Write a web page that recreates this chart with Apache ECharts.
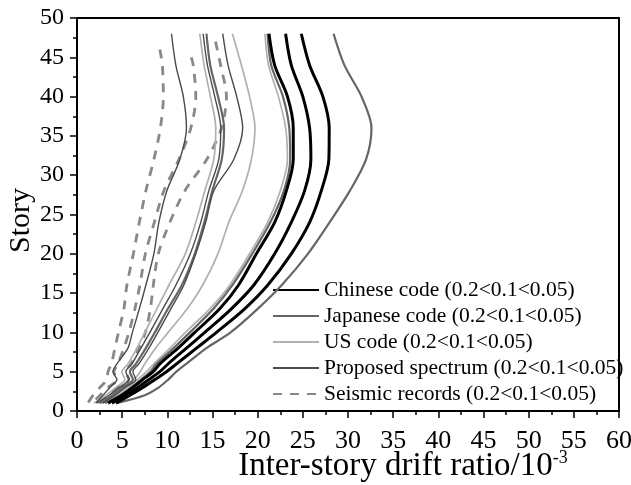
<!DOCTYPE html>
<html>
<head>
<meta charset="utf-8">
<script src="https://cdn.jsdelivr.net/npm/echarts@6/dist/echarts.min.js"></script>
<style>
  html, body { margin: 0; padding: 0; background: #fff; }
  #chart { width: 631px; height: 485px; }
</style>
</head>
<body>
<div id="chart"></div>
<script>
// Story levels at which drift ratios are sampled (top to bottom)
const stories = [48, 44, 40, 36, 32, 28, 24, 20, 16, 13, 10, 8, 6, 5, 4, 3, 2, 1];
const storiesSeismic02 = [46, 44, 40, 36, 32, 28, 24, 20, 16, 13, 10, 8, 6, 5, 4, 3, 2, 1];
const storiesSeismic01 = [45, 44, 40, 36, 32, 28, 24, 20, 16, 13, 10, 8, 6, 5, 4, 3, 2, 1];
const storiesSeismic005 = [47, 44, 40, 36, 32, 28, 24, 20, 16, 13, 10, 8, 6, 5, 4, 3, 2, 1];

// Inter-story drift ratio (x 10^-3), damping ratios 0.2 / 0.1 / 0.05
const chinese02  = [21.25, 21.88, 23.3, 23.94, 23.94, 23.17, 21.88, 19.86, 17.87, 15.8, 13.04, 11.19, 9.17, 8.43, 7.29, 6.19, 4.97, 3.43];
const chinese01  = [23.09, 23.72, 25.0, 25.75, 25.89, 25.19, 23.72, 21.88, 19.56, 17.09, 14.14, 12.12, 10.09, 9.17, 7.96, 6.74, 5.41, 3.87];
const chinese005 = [24.83, 25.75, 27.22, 27.92, 27.88, 27.04, 25.75, 23.72, 21.1, 18.56, 15.44, 13.23, 11.02, 9.91, 8.62, 7.29, 5.86, 4.31];

const japanese02  = [14.33, 14.75, 15.61, 16.28, 16.02, 14.97, 14.09, 13.04, 11.6, 10.06, 8.62, 7.62, 6.52, 5.86, 6.19, 4.97, 3.87, 2.54];
const japanese01  = [21.1, 21.5, 22.8, 23.5, 23.6, 22.9, 21.4, 19.4, 17.2, 15.1, 12.5, 10.7, 8.8, 8.1, 7.1, 6.0, 4.75, 3.1];
const japanese005 = [28.4, 29.6, 31.5, 32.6, 32.0, 30.2, 27.96, 25.56, 22.65, 20.0, 17.0, 14.33, 12.1, 11.0, 10.1, 9.06, 7.5, 4.4];

const us02  = [13.59, 14.07, 14.77, 15.36, 15.14, 14.14, 13.15, 11.99, 10.17, 8.84, 7.51, 6.63, 5.64, 4.97, 5.3, 4.31, 3.2, 1.88];
const us01  = [17.2, 18.2, 19.1, 19.7, 19.3, 18.3, 16.8, 15.6, 13.9, 12.2, 10.1, 8.7, 7.5, 7.0, 6.3, 5.3, 4.1, 2.5];
const us005 = [20.8, 21.2, 22.3, 23.1, 23.3, 22.5, 21.1, 19.1, 16.9, 14.7, 12.0, 10.3, 8.5, 7.7, 6.7, 5.6, 4.3, 2.8];

const proposed02  = [10.46, 10.94, 11.77, 12.12, 11.38, 9.94, 9.06, 8.51, 7.62, 6.9, 6.13, 5.64, 4.42, 3.98, 4.42, 3.65, 2.87, 2.1];
const proposed01  = [13.96, 14.44, 15.25, 15.91, 15.69, 14.59, 13.7, 12.54, 10.94, 9.5, 8.07, 7.07, 6.08, 5.41, 5.75, 4.64, 3.54, 2.21];
const proposed005 = [16.13, 16.72, 17.68, 18.34, 17.35, 15.14, 14.25, 13.15, 11.82, 10.39, 8.95, 7.96, 6.85, 6.19, 6.52, 5.3, 4.2, 2.87];

const seismic02  = [9.17, 9.45, 9.56, 9.23, 8.51, 7.62, 6.9, 6.24, 5.52, 5.19, 4.59, 4.2, 3.81, 3.43, 3.31, 2.54, 1.77, 1.2];
const seismic01  = [12.65, 12.87, 13.15, 12.6, 11.27, 9.61, 8.56, 7.57, 6.96, 6.41, 5.75, 5.19, 4.53, 4.09, 4.42, 3.43, 2.54, 1.66];
const seismic005 = [15.33, 15.9, 16.54, 16.0, 14.36, 11.93, 10.28, 9.0, 8.45, 8.12, 7.57, 6.85, 5.97, 5.41, 5.75, 4.53, 3.43, 2.32];

const groupNames = [
  'Chinese code (0.2<0.1<0.05)',
  'Japanese code (0.2<0.1<0.05)',
  'US code (0.2<0.1<0.05)',
  'Proposed spectrum (0.2<0.1<0.05)',
  'Seismic records (0.2<0.1<0.05)'
];

const FONT = "'Liberation Serif', 'Times New Roman', serif";

const groups = [
  { name: groupNames[0], color: '#000000', width: 3,   type: 'solid',  z: 5,
    curves: [[stories, chinese02], [stories, chinese01], [stories, chinese005]] },
  { name: groupNames[1], color: '#666666', width: 2.2, type: 'solid',  z: 4,
    curves: [[stories, japanese02], [stories, japanese01], [stories, japanese005]] },
  { name: groupNames[2], color: '#b0b0b0', width: 1.7, type: 'solid',  z: 3,
    curves: [[stories, us02], [stories, us01], [stories, us005]] },
  { name: groupNames[3], color: '#4a4a4a', width: 1.4, type: 'solid',  z: 4,
    curves: [[stories, proposed02], [stories, proposed01], [stories, proposed005]] },
  { name: groupNames[4], color: '#888888', width: 2.8, type: [9, 8],   z: 2,
    curves: [[storiesSeismic02, seismic02], [storiesSeismic01, seismic01], [storiesSeismic005, seismic005]] }
];

const series = [];
groups.forEach(g => {
  g.curves.forEach(([ys, xs]) => {
    series.push({
      name: g.name,
      type: 'line',
      data: xs.map((x, i) => [x, ys[i]]),
      symbol: 'none',
      showSymbol: false,
      smooth: 0.3,
      color: g.color,
      z: g.z,
      lineStyle: { color: g.color, width: g.width, type: g.type },
      emphasis: { disabled: true }
    });
  });
});

const chart = echarts.init(document.getElementById('chart'), null, { renderer: 'canvas' });
chart.setOption({
  animation: false,
  backgroundColor: '#ffffff',
  grid: {
    left: 77, right: 12, top: 18, bottom: 74,
    outerBoundsMode: 'none',
    containLabel: false,
    show: true, borderColor: '#000', borderWidth: 2, backgroundColor: 'transparent'
  },
  legend: {
    data: groupNames,
    orient: 'vertical',
    left: 267,
    top: 274,
    itemWidth: 46,
    itemHeight: 14,
    itemGap: 4,
    selectedMode: false,
    itemStyle: { opacity: 0 },
    textStyle: { fontFamily: FONT, fontSize: 21.5, lineHeight: 21, color: '#000' }
  },
  xAxis: {
    type: 'value',
    min: 0, max: 60, interval: 5,
    name: '{a|Inter-story drift ratio/10}{b|-3}',
    nameLocation: 'middle',
    nameGap: 38,
    nameMoveOverlap: false,
    nameTextStyle: {
      padding: [0, 0, 0, 110],
      rich: {
        a: { fontFamily: FONT, fontSize: 33, color: '#000' },
        b: { fontFamily: FONT, fontSize: 18, color: '#000', verticalAlign: 'top', padding: [0, 0, 16, 0] }
      }
    },
    axisLine: { show: true, lineStyle: { color: '#000', width: 2 } },
    axisTick: { show: true, inside: false, length: 7, lineStyle: { color: '#000', width: 1.5 } },
    minorTick: { show: true, splitNumber: 2, length: 4, lineStyle: { color: '#000', width: 1.5 } },
    splitLine: { show: false },
    axisLabel: { fontFamily: FONT, fontSize: 26, color: '#000', margin: 17 }
  },
  yAxis: {
    type: 'value',
    min: 0, max: 50, interval: 5,
    name: 'Story',
    nameLocation: 'middle',
    nameGap: 41,
    nameMoveOverlap: false,
    nameRotate: 90,
    nameTextStyle: { fontFamily: FONT, fontSize: 30, color: '#000', padding: [0, 12, 0, 0] },
    axisLine: { show: true, lineStyle: { color: '#000', width: 2 } },
    axisTick: { show: true, inside: false, length: 7, lineStyle: { color: '#000', width: 1.5 } },
    minorTick: { show: true, splitNumber: 2, length: 4, lineStyle: { color: '#000', width: 1.5 } },
    splitLine: { show: false },
    axisLabel: { fontFamily: FONT, fontSize: 24, color: '#000', margin: 13 }
  },
  series: series
});
</script>
</body>
</html>
